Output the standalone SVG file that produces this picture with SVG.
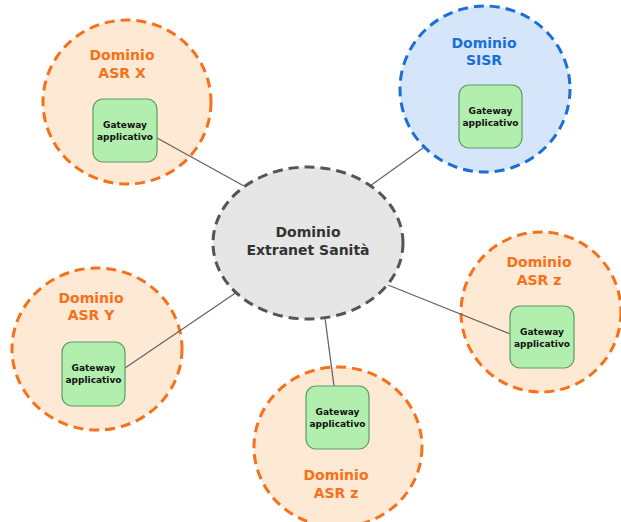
<svg xmlns="http://www.w3.org/2000/svg" width="621" height="522" viewBox="0 0 621 522">
  <style>
    .dom { stroke-width: 3; stroke-dasharray: 10 6; }
    .asr { fill: #fde9d4; stroke: #f7701a; }
    .sisr { fill: #d5e6fb; stroke: #1a6fd6; }
    .core { fill: #e6e6e6; stroke: #555555; }
    .gw { fill: #b2efaf; stroke: #5c9c63; stroke-width: 1.2; }
    .lbl { font-family: "DejaVu Sans", Verdana, sans-serif; font-weight: bold; font-size: 14px; text-anchor: middle; }
    .orange { fill: #f7701a; }
    .blue { fill: #1a6fd6; }
    .dark { fill: #333333; }
    .gwt { font-family: "DejaVu Sans", Verdana, sans-serif; font-weight: bold; font-size: 9px; text-anchor: middle; fill: #111111; }
    .link { stroke: #666666; stroke-width: 1.3; fill: none; }
  </style>
  <rect width="621" height="522" fill="#ffffff"/>

  <!-- domain circles -->
  <g id="asr-x">
    <ellipse class="dom asr" cx="127" cy="102" rx="84" ry="82"/>
    <text class="lbl orange" x="122" y="60">Dominio</text>
    <text class="lbl orange" x="122" y="78">ASR X</text>
  </g>
  <g id="sisr">
    <ellipse class="dom sisr" cx="485" cy="89" rx="85" ry="83"/>
    <text class="lbl blue" x="484" y="48">Dominio</text>
    <text class="lbl blue" x="484" y="65">SISR</text>
  </g>
  <g id="asr-z-right">
    <ellipse class="dom asr" cx="541" cy="312" rx="80" ry="80"/>
    <text class="lbl orange" x="539" y="267">Dominio</text>
    <text class="lbl orange" x="539" y="285">ASR z</text>
  </g>
  <g id="asr-z-bottom">
    <ellipse class="dom asr" cx="338" cy="447" rx="84" ry="80"/>
    <text class="lbl orange" x="336" y="480">Dominio</text>
    <text class="lbl orange" x="336" y="498">ASR z</text>
  </g>
  <g id="asr-y">
    <ellipse class="dom asr" cx="97" cy="349" rx="85" ry="81"/>
    <text class="lbl orange" x="91" y="303">Dominio</text>
    <text class="lbl orange" x="91" y="320">ASR Y</text>
  </g>

  <!-- connectors -->
  <g id="connectors">
    <line class="link" x1="157" y1="138" x2="244" y2="186"/>
    <line class="link" x1="370" y1="186" x2="423" y2="148"/>
    <line class="link" x1="388" y1="285" x2="510" y2="334"/>
    <line class="link" x1="325" y1="318" x2="334" y2="386"/>
    <line class="link" x1="125" y1="368" x2="237" y2="292"/>
  </g>

  <g id="extranet">
    <ellipse class="dom core" cx="308" cy="243" rx="95" ry="76"/>
    <text class="lbl dark" x="308" y="237">Dominio</text>
    <text class="lbl dark" x="308" y="255">Extranet Sanità</text>
  </g>

  <!-- application gateways -->
  <g id="gw-asr-x">
    <rect class="gw" x="93" y="99" width="64" height="63" rx="10"/>
    <text class="gwt" x="125" y="128">Gateway</text>
    <text class="gwt" x="125" y="140">applicativo</text>
  </g>
  <g id="gw-sisr">
    <rect class="gw" x="459" y="85" width="63" height="63" rx="10"/>
    <text class="gwt" x="490.5" y="114">Gateway</text>
    <text class="gwt" x="490.5" y="126">applicativo</text>
  </g>
  <g id="gw-asr-z-right">
    <rect class="gw" x="510" y="306" width="64" height="62" rx="10"/>
    <text class="gwt" x="542" y="335">Gateway</text>
    <text class="gwt" x="542" y="347">applicativo</text>
  </g>
  <g id="gw-asr-z-bottom">
    <rect class="gw" x="306" y="386" width="63" height="63" rx="10"/>
    <text class="gwt" x="337.5" y="415">Gateway</text>
    <text class="gwt" x="337.5" y="427">applicativo</text>
  </g>
  <g id="gw-asr-y">
    <rect class="gw" x="62" y="342" width="63" height="64" rx="10"/>
    <text class="gwt" x="93.5" y="371">Gateway</text>
    <text class="gwt" x="93.5" y="383">applicativo</text>
  </g>
</svg>
